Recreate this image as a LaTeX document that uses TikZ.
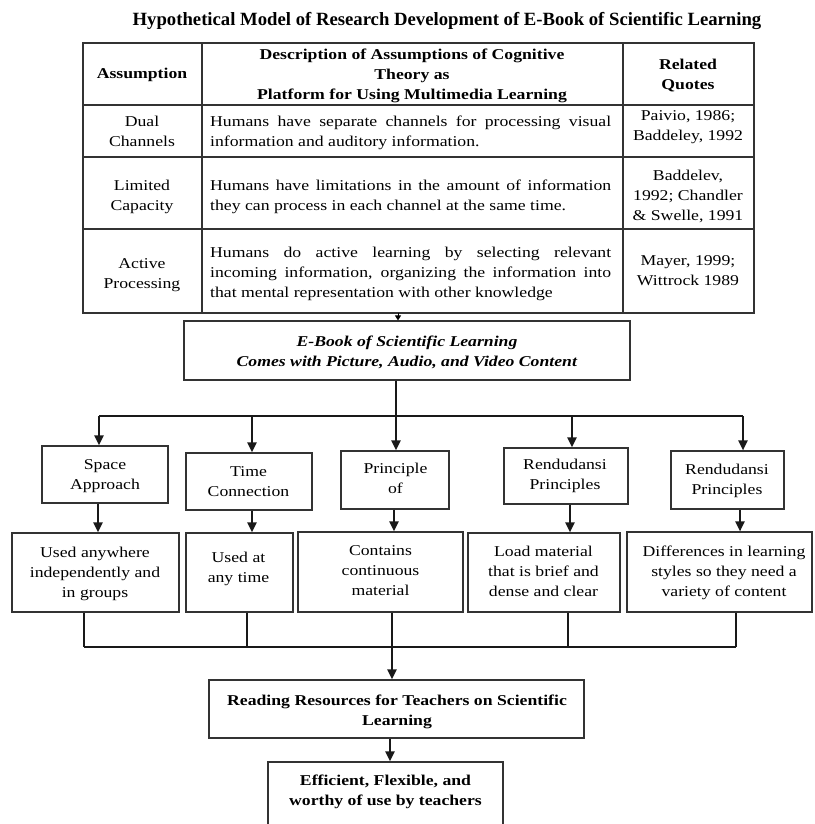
\documentclass[tikz,border=0pt]{standalone}
\usepackage{fontspec}
\setmainfont[FakeStretch=1.18]{Liberation Serif}
\newfontfamily\titlefont{Liberation Serif}
\usetikzlibrary{arrows.meta}

\newcommand{\cellc}[1]{\begin{tabular}[t]{@{}c@{}}#1\end{tabular}}
\newcommand{\celll}[1]{\begin{tabular}[t]{@{}l@{}}#1\end{tabular}}
\newcommand{\jline}[1]{\makebox[401pt][s]{#1}}

\tikzset{
  box/.style={draw=black!80,line width=1.1pt,inner sep=0pt},
  txt/.style={anchor=base,inner sep=0pt,font=\fontsize{15}{20}\selectfont},
  tab/.style={draw=black!80,line width=1.1pt},
  bus/.style={line width=2.3pt,black!90},
  arr/.style={line width=2.3pt,black!90,-{Triangle[width=9pt,length=10pt]}},
}

\begin{document}
\begin{tikzpicture}[x=1pt,y=-1pt]
\useasboundingbox (0,0) rectangle (814,824);
\node[anchor=base,inner sep=0pt,font=\titlefont\bfseries\fontsize{18.7}{22}\selectfont] (title) at (447,26) {Hypothetical Model of Research Development of E-Book of Scientific Learning};

% table
\draw[tab] (83,43) rectangle (754,313);
\foreach \y in {105,157,229} \draw[tab] (83,\y) -- (754,\y);
\foreach \x in {202,623} \draw[tab] (\x,43) -- (\x,313);
\node[txt] (hassum) at (142,79) {\textbf{Assumption}};
\node[txt] (hdesc) at (412,59.5) {\cellc{\textbf{Description of Assumptions of Cognitive}\\ \textbf{Theory as}\\ \textbf{Platform for Using Multimedia Learning}}};
\node[txt] (hquote) at (688,69.5) {\cellc{\textbf{Related}\\ \textbf{Quotes}}};
\node[txt] (dual) at (142,127) {\cellc{Dual\\ Channels}};
\node[txt,anchor=base west] (dualdesc) at (210,127) {\celll{\jline{Humans have separate channels for processing visual}\\ information and auditory information.}};
\node[txt] (dualref) at (688,121) {\cellc{Paivio, 1986;\\ Baddeley, 1992}};
\node[txt] (limit) at (142,190) {\cellc{Limited\\ Capacity}};
\node[txt,anchor=base west] (limitdesc) at (210,190) {\celll{\jline{Humans have limitations in the amount of information}\\ they can process in each channel at the same time.}};
\node[txt] (limitref) at (688,180) {\cellc{Baddelev,\\ 1992; Chandler\\ \& Swelle, 1991}};
\node[txt] (active) at (142,268) {\cellc{Active\\ Processing}};
\node[txt,anchor=base west] (activedesc) at (210,257) {\celll{\jline{Humans do active learning by selecting relevant}\\ \jline{incoming information, organizing the information into}\\ that mental representation with other knowledge}};
\node[txt] (activeref) at (688,265) {\cellc{Mayer, 1999;\\ Wittrock 1989}};

% e-book
\node[box,minimum width=446pt,minimum height=59pt] (ebook) at (407,350.5) {};
\node[txt] (ebooktxt) at (407,346.5) {\cellc{\textbf{\textit{E-Book of Scientific Learning}}\\ \textbf{\textit{Comes with Picture, Audio, and Video Content}}}};
\coordinate (tabarr) at (398,313);
\draw[line width=1pt,-{Triangle[width=6pt,length=5pt]}] (tabarr) -- (tabarr |- ebook.north);

% first row
\node[box,minimum width=126pt,minimum height=57pt] (space) at (105,474.5) {};
\node[box,minimum width=126pt,minimum height=57pt] (time) at (249,481.5) {};
\node[box,minimum width=108pt,minimum height=58pt] (princ) at (395,480) {};
\node[box,minimum width=124pt,minimum height=56pt] (renda) at (566,476) {};
\node[box,minimum width=113pt,minimum height=58pt] (rendb) at (727.5,480) {};
\node[txt] (spacetxt) at (105,469) {\cellc{Space\\ Approach}};
\node[txt] (timetxt) at (248.5,476) {\cellc{Time\\ Connection}};
\node[txt] (princtxt) at (395.5,473) {\cellc{Principle\\ of}};
\node[txt] (rendatxt) at (565,469) {\cellc{Rendudansi\\ Principles}};
\node[txt] (rendbtxt) at (727,474) {\cellc{Rendudansi\\ Principles}};

% second row
\node[box,minimum width=167pt,minimum height=79pt] (used) at (95.5,572.5) {};
\node[box,minimum width=107pt,minimum height=79pt] (anytime) at (239.5,572.5) {};
\node[box,minimum width=165pt,minimum height=80pt] (contain) at (380.5,572) {};
\node[box,minimum width=152pt,minimum height=79pt] (load) at (544,572.5) {};
\node[box,minimum width=185pt,minimum height=80pt] (diff) at (719.5,572) {};
\node[txt] (usedtxt) at (95,557) {\cellc{Used anywhere\\ independently and\\ in groups}};
\node[txt] (anytimetxt) at (238.5,562) {\cellc{Used at\\ any time}};
\node[txt] (containtxt) at (380.5,555) {\cellc{Contains\\ continuous\\ material}};
\node[txt] (loadtxt) at (543.5,556) {\cellc{Load material\\ that is brief and\\ dense and clear}};
\node[txt] (difftxt) at (724,556) {\cellc{Differences in learning\\ styles so they need a\\ variety of content}};

% bottom
\node[box,minimum width=375pt,minimum height=58pt] (read) at (396.5,709) {};
\node[txt] (readtxt) at (397,705) {\cellc{\textbf{Reading Resources for Teachers on Scientific}\\ \textbf{Learning}}};
\node[box,minimum width=235pt,minimum height=68pt] (eff) at (385.5,796) {};
\node[txt] (efftxt) at (385.5,785) {\cellc{\textbf{Efficient, Flexible, and}\\ \textbf{worthy of use by teachers}}};

% connectors
\foreach \n/\x in {1/99,2/252,3/396,4/572,5/743} \coordinate (b\n) at (\x,416);
\foreach \n/\x in {1/98,2/252,3/394,4/570,5/740} \coordinate (c\n) at (\x,0);
\foreach \n/\x in {1/84,2/247,3/392,4/568,5/736} \coordinate (d\n) at (\x,647);
\coordinate (e1) at (390,0);
\draw[bus] (b1) -- (b5);
\draw[bus] (b3 |- ebook.south) -- (b3);
\foreach \n/\a in {1/space,2/time,3/princ,4/renda,5/rendb} \draw[arr] (b\n) -- (b\n |- \a.north);
\foreach \n/\a/\b in {1/space/used,2/time/anytime,3/princ/contain,4/renda/load,5/rendb/diff} \draw[arr] (c\n |- \a.south) -- (c\n |- \b.north);
\draw[bus] (d1) -- (d5);
\foreach \n/\a in {1/used,2/anytime,3/contain,4/load,5/diff} \draw[bus] (d\n |- \a.south) -- (d\n);
\draw[arr] (d3) -- (d3 |- read.north);
\draw[arr] (e1 |- read.south) -- (e1 |- eff.north);
\end{tikzpicture}
\end{document}
